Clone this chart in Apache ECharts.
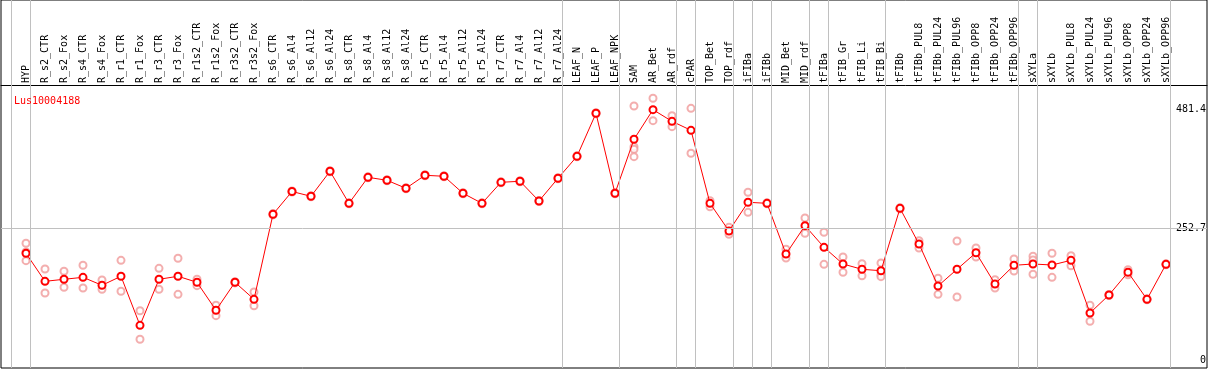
<!DOCTYPE html>
<html><head><meta charset="utf-8">
<script src="https://cdn.jsdelivr.net/npm/echarts@6/dist/echarts.min.js"></script>
<style>html,body{margin:0;padding:0;background:#fff}#c{width:1209px;height:370px}</style>
</head><body><div id="c"></div>
<script>
const geneName = 'Lus10004188';
const categories = ['HYP','R_s2_CTR','R_s2_Fox','R_s4_CTR','R_s4_Fox','R_r1_CTR','R_r1_Fox','R_r3_CTR','R_r3_Fox','R_r1s2_CTR','R_r1s2_Fox','R_r3s2_CTR','R_r3s2_Fox','R_s6_CTR','R_s6_Al4','R_s6_Al12','R_s6_Al24','R_s8_CTR','R_s8_Al4','R_s8_Al12','R_s8_Al24','R_r5_CTR','R_r5_Al4','R_r5_Al12','R_r5_Al24','R_r7_CTR','R_r7_Al4','R_r7_Al12','R_r7_Al24','LEAF_N','LEAF_P','LEAF_NPK','SAM','AR_Bet','AR_rdf','cPAR','TOP_Bet','TOP_rdf','iFIBa','iFIBb','MID_Bet','MID_rdf','tFIBa','tFIB_Gr','tFIB_Li','tFIB_Bi','tFIBb','tFIBb_PUL8','tFIBb_PUL24','tFIBb_PUL96','tFIBb_OPP8','tFIBb_OPP24','tFIBb_OPP96','sXYLa','sXYLb','sXYLb_PUL8','sXYLb_PUL24','sXYLb_PUL96','sXYLb_OPP8','sXYLb_OPP24','sXYLb_OPP96'];
const meanValues = [205.2,151.3,155.2,159.0,143.7,161.0,66.7,155.2,161.0,149.4,95.6,149.4,116.7,280.2,324.0,314.8,362.9,301.3,351.3,345.6,330.2,355.2,353.3,320.6,301.3,341.7,343.7,305.8,349.4,391.7,474.4,320.6,424.4,481.4,459.0,441.7,301.3,248.1,303.3,301.3,203.8,258.3,216.7,184.6,174.4,171.7,291.7,223.1,142.3,174.4,206.3,146.2,182.1,184.6,182.7,191.7,90.4,125.0,168.7,116.7,184.0];
const replicateValues = [[224.4,207.7,191.0],[175.0,128.8],[170.6,139.8],[182.1,138.5],[153.8,136.0],[191.7,132.1],[94.8,39.8],[176.3,136.0],[195.6,126.3],[155.2,142.9],[105.2,85.2],[150.5,148.3],[130.8,104.4],[281.5,279.0],[325,323],[315.8,313.8],[364,362],[302.3,300.3],[352.3,350.3],[346.6,344.6],[331.2,329.2],[356.2,354.2],[354.3,352.3],[321.6,319.6],[302.3,300.3],[342.7,340.7],[344.7,342.7],[306.8,304.8],[350.4,348.4],[392.7,390.7],[475.4,473.4],[321.6,319.6],[488.5,410.2,405.2,391.0],[503.3,460.2],[469.8,448.7],[484.0,397.5],[306.3,294.8],[255.2,241.7],[322.5,284.0],[302.3,300.3],[212.9,196.2],[273.1,243.7],[245.6,184.0],[198.1,168.7],[185.2,162.1],[186.5,163.5,160.2],[293,290.5],[229.4,215.4],[157.1,126.3],[228.8,121.2],[215.4,198.1],[154.4,138.5],[194.2,171.2],[199.4,192.3,164.8],[205.2,159.0],[200.6,181.3],[105.2,74.4],[126,124],[173.7,164.0],[117.7,115.7],[185,183]];
const yTickLabels = [0, 252.7, 481.4];
const midLine = 252.7;
const groupEnds = [-1,0,28,31,34,35,37,38,39,41,42,45,52,53,60];

const FONT = 'DejaVu Sans Mono';
const X_MIN = -1.3158, X_MAX = 62.158, Y_MIN = -15.4, Y_MAX = 692.3;
const meanData = meanValues.map((v,i)=>[i,v]);
const repData = [];
replicateValues.forEach((arr,i)=>arr.forEach(v=>repData.push([i,v])));
const catIdx = categories.map((c,i)=>i);

const chart = echarts.init(document.getElementById('c'), null, {renderer:'canvas'});
chart.setOption({
  animation:false,
  backgroundColor:'#fff',
  title:{text:geneName,left:9,top:91,textStyle:{color:'#ff0000',fontSize:10,fontWeight:'normal',fontFamily:FONT}},
  grid:[
    {left:1,right:2,top:0,bottom:2,show:true,borderColor:'#000',borderWidth:1,backgroundColor:'transparent'},
    {left:1,right:2,top:0,height:85,show:false}
  ],
  xAxis:[
    {gridIndex:0,type:'value',min:X_MIN,max:X_MAX,
      axisLine:{show:false,onZero:false},axisTick:{show:false},splitLine:{show:false},axisLabel:{show:false}},
    {gridIndex:1,type:'value',position:'bottom',min:X_MIN,max:X_MAX,
      axisLine:{show:true,onZero:false,lineStyle:{color:'#000',width:1}},
      axisTick:{show:false},splitLine:{show:false},
      axisLabel:{customValues:catIdx,inside:true,rotate:90,margin:2,fontSize:10,fontFamily:FONT,color:'#000',
        formatter:v=>categories[Math.round(v)]||''}}
  ],
  yAxis:[
    {gridIndex:0,type:'value',position:'right',min:Y_MIN,max:Y_MAX,
      axisLine:{show:false},axisTick:{show:false},splitLine:{show:false},
      axisLabel:{customValues:yTickLabels,inside:true,margin:1,fontSize:10,fontFamily:FONT,color:'#000',
        backgroundColor:'#fff',verticalAlign:'middle',
        formatter:v=>v===0?'0':v.toFixed(1)}},
    {gridIndex:1,type:'value',min:0,max:1,show:false}
  ],
  series:[
    {type:'line',xAxisIndex:0,yAxisIndex:0,data:[],silent:true,
      markLine:{silent:true,symbol:'none',label:{show:false},
        lineStyle:{color:'#c0c0c0',width:1,type:'solid'},
        data:groupEnds.map(k=>({xAxis:k+0.24})).concat([{yAxis:midLine}])}},
    {type:'scatter',xAxisIndex:0,yAxisIndex:0,data:repData,symbol:'emptyCircle',symbolSize:7,z:3,
      itemStyle:{color:'#f09a9a',borderColor:'#f09a9a',borderWidth:1}},
    {type:'line',xAxisIndex:0,yAxisIndex:0,data:meanData,symbol:'emptyCircle',symbolSize:7,z:4,
      lineStyle:{color:'#ff0000',width:1},
      itemStyle:{color:'#ff0000',borderColor:'#ff0000',borderWidth:1.2}}
  ]
});
</script></body></html>
